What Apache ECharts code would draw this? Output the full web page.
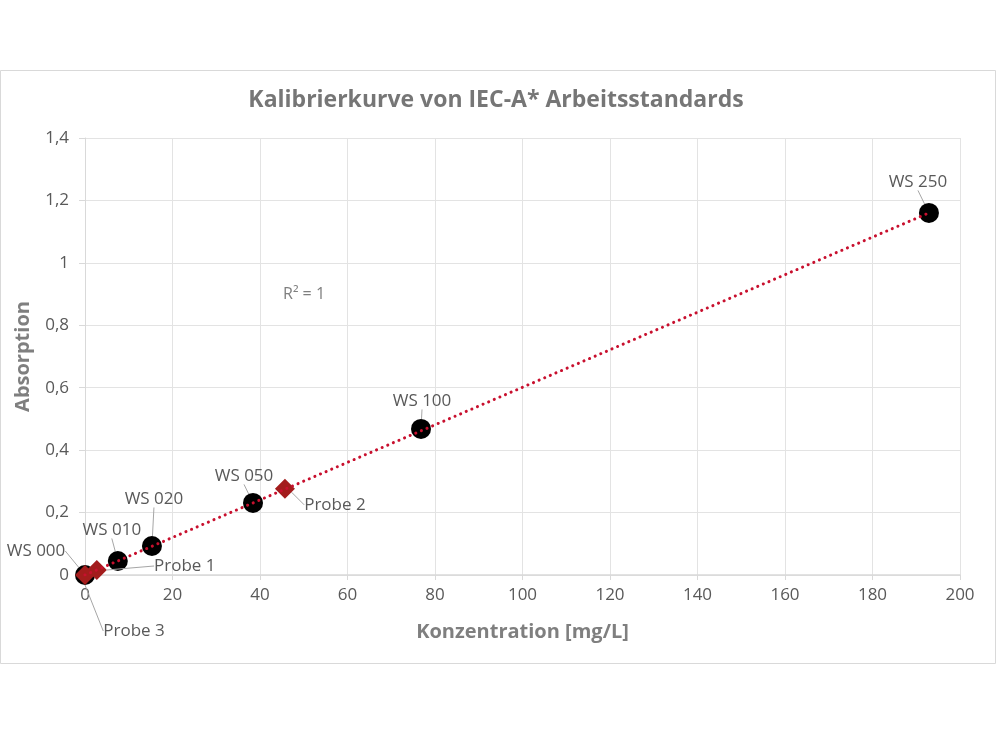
<!DOCTYPE html>
<html><head><meta charset="utf-8">
<script src="https://cdn.jsdelivr.net/npm/echarts@6/dist/echarts.min.js"></script>
<style>html,body{margin:0;padding:0;background:#fff}#c{width:1000px;height:750px}</style>
</head><body><div id="c"></div>
<script>
// Standards (black circles)
const wsNames = ['WS 000','WS 010','WS 020','WS 050','WS 100','WS 250'];
const wsConc = [0, 7.5, 15.3, 38.4, 76.8, 192.9];
const wsAbs = [0.0, 0.045, 0.093, 0.231, 0.468, 1.160];
// Samples (red diamonds)
const probeNames = ['Probe 1','Probe 2','Probe 3'];
const probeConc = [2.7, 45.7, 0.0];
const probeAbs = [0.016, 0.276, 0.0];
// Linear trend line endpoints
const trendConc = [0, 192.9];
const trendAbs = [0.0, 1.160];
const xTicks = [0,20,40,60,80,100,120,140,160,180,200];
const yTicks = [0,0.2,0.4,0.6,0.8,1.0,1.2,1.4];

// label offsets (layout only)
const wsLabelOffset = [[-49,-24],[-6,-31],[2,-47],[-9,-27],[1,-28],[-11,-31]];
const probeLabelOffset = [[88,-4],[50,16],[49,56]];

const FONT = '"Open Sans", Lato, sans-serif';
const chart = echarts.init(document.getElementById('c'));
const fmt = v => String(v).replace('.', ',');

chart.setOption({
  backgroundColor: '#fff',
  animation: false,
  title: {
    text: 'Kalibrierkurve von IEC-A* Arbeitsstandards',
    left: 491, top: 84, textAlign: 'center',
    textStyle: {fontFamily: FONT, fontSize: 23, fontWeight: 'bold', color: '#767676'}
  },
  graphic: [
    {type: 'rect', shape: {x: 0.5, y: 70.5, width: 995, height: 593},
     style: {fill: 'none', stroke: '#d9d9d9', lineWidth: 1}, z: -10},
    {type: 'text', left: 283, top: 286,
     style: {text: 'R² = 1', font: '16px ' + FONT, fill: '#7f7f7f'}}
  ],
  grid: {left: 85, right: 40, top: 138, bottom: 175, outerBoundsMode: 'none', containLabel: false},
  xAxis: {
    type: 'value', min: 0, max: 200, interval: 20,
    name: 'Konzentration [mg/L]', nameLocation: 'middle', nameGap: 47,
    nameTextStyle: {fontFamily: FONT, fontSize: 20, fontWeight: 'bold', color: '#7f7f7f'},
    axisLine: {show: true, onZero: false, lineStyle: {color: '#d9d9d9', width: 1.5}},
    axisTick: {show: true, length: 5, lineStyle: {color: '#d9d9d9'}},
    axisLabel: {fontFamily: FONT, fontSize: 17, color: '#595959', margin: 12, formatter: fmt},
    splitLine: {show: true, lineStyle: {color: '#e3e3e3', width: 1}}
  },
  yAxis: {
    type: 'value', min: 0, max: 1.4, interval: 0.2,
    name: 'Absorption', nameLocation: 'middle', nameGap: 52,
    nameTextStyle: {fontFamily: FONT, fontSize: 20, fontWeight: 'bold', color: '#7f7f7f'},
    axisLine: {show: true, lineStyle: {color: '#d9d9d9', width: 1}},
    axisTick: {show: true, length: 6, lineStyle: {color: '#d9d9d9'}},
    axisLabel: {fontFamily: FONT, fontSize: 17, color: '#595959', margin: 16,
      formatter: v => fmt(Math.round(v * 10) / 10)},
    splitLine: {show: true, lineStyle: {color: '#e3e3e3', width: 1}}
  },
  series: [
    {
      type: 'scatter', name: 'Standards', symbol: 'circle', symbolSize: 20,
      itemStyle: {color: '#000', opacity: 1}, z: 2, clip: false,
      data: wsConc.map((x, i) => ({value: [x, wsAbs[i]], name: wsNames[i]})),
      label: {show: true, position: 'inside', formatter: p => p.name,
        fontFamily: FONT, fontSize: 17, color: '#595959'},
      labelLine: {show: true, lineStyle: {color: '#a6a6a6', width: 1}},
      labelLayout: p => ({dx: wsLabelOffset[p.dataIndex][0], dy: wsLabelOffset[p.dataIndex][1]})
    },
    {
      type: 'scatter', name: 'Proben', symbol: 'diamond', symbolSize: 20,
      itemStyle: {color: '#a31c1c', opacity: 1}, z: 3, clip: false,
      data: probeConc.map((x, i) => ({value: [x, probeAbs[i]], name: probeNames[i]})),
      label: {show: true, position: 'inside', formatter: p => p.name,
        fontFamily: FONT, fontSize: 17, color: '#595959'},
      labelLine: {show: true, lineStyle: {color: '#a6a6a6', width: 1}},
      labelLayout: p => ({dx: probeLabelOffset[p.dataIndex][0], dy: probeLabelOffset[p.dataIndex][1]})
    },
    {
      type: 'line', name: 'Trend', symbol: 'none', z: 4,
      data: trendConc.map((x, i) => [x, trendAbs[i]]),
      lineStyle: {color: '#c8102e', width: 3, type: [0.1, 6], cap: 'round'}
    }
  ]
});
</script></body></html>
